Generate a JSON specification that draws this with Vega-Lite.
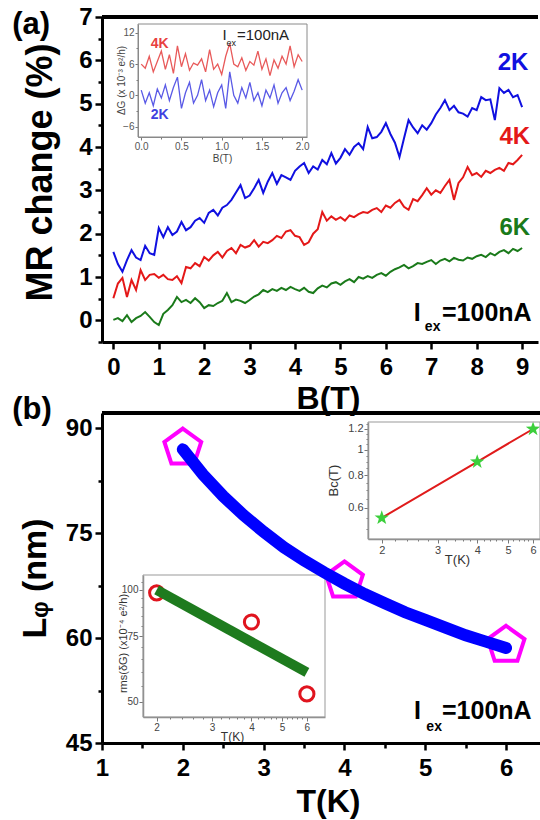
{
"$schema": "https://vega.github.io/schema/vega-lite/v6.json",
"width": 540, "height": 820, "padding": 0, "autosize": {"type": "none"},
"background": "white",
"config": {"view": {"stroke": null}, "font": "Liberation Sans",
  "axis": {"grid": false, "labelFlush": false, "labelOverlap": false, "labelBound": false, "titleAlign": "center", "titleBaseline": "middle", "labelFont": "Liberation Sans", "titleFont": "Liberation Sans"}},
"datasets": {
 "mrA": [
  {"B":0.0,"2K":1.58,"4K":0.51,"6K":0.01},{"B":0.1,"2K":1.30,"4K":0.85,"6K":0.05},{"B":0.2,"2K":1.12,"4K":0.98,"6K":-0.02},{"B":0.3,"2K":1.39,"4K":0.54,"6K":0.12},{"B":0.4,"2K":1.62,"4K":0.93,"6K":-0.04},
  {"B":0.5,"2K":1.45,"4K":0.70,"6K":0.05},{"B":0.6,"2K":1.39,"4K":1.16,"6K":0.10},{"B":0.7,"2K":1.72,"4K":0.93,"6K":0.19},{"B":0.8,"2K":1.55,"4K":1.05,"6K":0.08},{"B":0.9,"2K":1.51,"4K":1.07,"6K":-0.04},
  {"B":1.0,"2K":2.13,"4K":0.98,"6K":-0.11},{"B":1.1,"2K":1.92,"4K":1.05,"6K":0.15},{"B":1.2,"2K":2.15,"4K":0.95,"6K":0.24},{"B":1.3,"2K":1.97,"4K":0.93,"6K":0.35},{"B":1.4,"2K":2.05,"4K":1.02,"6K":0.54},
  {"B":1.5,"2K":2.27,"4K":0.86,"6K":0.42},{"B":1.6,"2K":2.08,"4K":1.23,"6K":0.47},{"B":1.7,"2K":2.15,"4K":1.20,"6K":0.40},{"B":1.8,"2K":2.30,"4K":1.32,"6K":0.51},{"B":1.9,"2K":2.36,"4K":1.25,"6K":0.42},
  {"B":2.0,"2K":2.25,"4K":1.46,"6K":0.28},{"B":2.1,"2K":2.48,"4K":1.38,"6K":0.35},{"B":2.2,"2K":2.55,"4K":1.50,"6K":0.33},{"B":2.3,"2K":2.42,"4K":1.58,"6K":0.40},{"B":2.4,"2K":2.60,"4K":1.45,"6K":0.45},
  {"B":2.5,"2K":2.66,"4K":1.60,"6K":0.63},{"B":2.6,"2K":2.78,"4K":1.67,"6K":0.42},{"B":2.7,"2K":2.95,"4K":1.55,"6K":0.48},{"B":2.8,"2K":3.12,"4K":1.74,"6K":0.45},{"B":2.9,"2K":2.82,"4K":1.68,"6K":0.40},
  {"B":3.0,"2K":2.88,"4K":1.72,"6K":0.47},{"B":3.1,"2K":3.05,"4K":1.85,"6K":0.55},{"B":3.2,"2K":3.24,"4K":1.70,"6K":0.60},{"B":3.3,"2K":2.94,"4K":1.81,"6K":0.70},{"B":3.4,"2K":3.20,"4K":1.78,"6K":0.65},
  {"B":3.5,"2K":3.40,"4K":1.85,"6K":0.72},{"B":3.6,"2K":3.15,"4K":1.95,"6K":0.68},{"B":3.7,"2K":3.35,"4K":1.90,"6K":0.75},{"B":3.8,"2K":3.30,"4K":2.05,"6K":0.70},{"B":3.9,"2K":3.24,"4K":2.08,"6K":0.77},
  {"B":4.0,"2K":3.45,"4K":1.95,"6K":0.72},{"B":4.1,"2K":3.55,"4K":1.92,"6K":0.68},{"B":4.2,"2K":3.63,"4K":1.74,"6K":0.75},{"B":4.3,"2K":3.40,"4K":1.80,"6K":0.66},{"B":4.4,"2K":3.55,"4K":2.00,"6K":0.63},
  {"B":4.5,"2K":3.48,"4K":2.10,"6K":0.74},{"B":4.6,"2K":3.70,"4K":2.50,"6K":0.80},{"B":4.7,"2K":3.60,"4K":2.30,"6K":0.76},{"B":4.8,"2K":3.86,"4K":2.40,"6K":0.85},{"B":4.9,"2K":3.62,"4K":2.32,"6K":0.88},
  {"B":5.0,"2K":3.75,"4K":2.38,"6K":0.82},{"B":5.1,"2K":3.95,"4K":2.30,"6K":0.90},{"B":5.2,"2K":3.82,"4K":2.42,"6K":0.95},{"B":5.3,"2K":4.00,"4K":2.38,"6K":0.88},{"B":5.4,"2K":4.09,"4K":2.45,"6K":1.00},
  {"B":5.5,"2K":3.95,"4K":2.50,"6K":0.96},{"B":5.6,"2K":4.46,"4K":2.48,"6K":1.02},{"B":5.7,"2K":4.20,"4K":2.55,"6K":0.98},{"B":5.8,"2K":4.23,"4K":2.59,"6K":1.05},{"B":5.9,"2K":4.35,"4K":2.50,"6K":1.09},
  {"B":6.0,"2K":4.55,"4K":2.65,"6K":1.03},{"B":6.1,"2K":4.30,"4K":2.60,"6K":1.12},{"B":6.2,"2K":4.10,"4K":2.71,"6K":1.18},{"B":6.3,"2K":3.77,"4K":2.78,"6K":1.22},{"B":6.4,"2K":4.20,"4K":2.62,"6K":1.28},
  {"B":6.5,"2K":4.62,"4K":2.55,"6K":1.20},{"B":6.6,"2K":4.45,"4K":2.80,"6K":1.25},{"B":6.7,"2K":4.32,"4K":2.75,"6K":1.32},{"B":6.8,"2K":4.50,"4K":2.89,"6K":1.30},{"B":6.9,"2K":4.40,"4K":3.05,"6K":1.35},
  {"B":7.0,"2K":4.55,"4K":2.90,"6K":1.39},{"B":7.1,"2K":4.75,"4K":3.00,"6K":1.30},{"B":7.2,"2K":4.90,"4K":2.94,"6K":1.38},{"B":7.3,"2K":5.08,"4K":3.10,"6K":1.42},{"B":7.4,"2K":4.85,"4K":3.24,"6K":1.36},
  {"B":7.5,"2K":4.95,"4K":2.78,"6K":1.44},{"B":7.6,"2K":4.80,"4K":3.17,"6K":1.40},{"B":7.7,"2K":4.77,"4K":3.30,"6K":1.38},{"B":7.8,"2K":4.70,"4K":3.54,"6K":1.45},{"B":7.9,"2K":4.90,"4K":3.35,"6K":1.42},
  {"B":8.0,"2K":4.85,"4K":3.40,"6K":1.48},{"B":8.1,"2K":5.15,"4K":3.31,"6K":1.51},{"B":8.2,"2K":5.08,"4K":3.45,"6K":1.46},{"B":8.3,"2K":5.10,"4K":3.40,"6K":1.55},{"B":8.4,"2K":4.62,"4K":3.47,"6K":1.50},
  {"B":8.5,"2K":5.36,"4K":3.52,"6K":1.58},{"B":8.6,"2K":5.25,"4K":3.45,"6K":1.62},{"B":8.7,"2K":5.32,"4K":3.63,"6K":1.55},{"B":8.8,"2K":5.15,"4K":3.60,"6K":1.65},{"B":8.9,"2K":5.20,"4K":3.70,"6K":1.60},
  {"B":9.0,"2K":4.92,"4K":3.82,"6K":1.67}
 ],
 "dgA": [
  {"B":0.00,"4K":6.0,"2K":1.0},{"B":0.05,"4K":5.2,"2K":-1.5},{"B":0.10,"4K":7.5,"2K":0.5},{"B":0.15,"4K":4.5,"2K":-2.0},{"B":0.20,"4K":6.5,"2K":1.2},
  {"B":0.25,"4K":8.5,"2K":-0.5},{"B":0.30,"4K":5.0,"2K":2.0},{"B":0.35,"4K":7.8,"2K":-1.0},{"B":0.40,"4K":4.2,"2K":1.5},{"B":0.45,"4K":9.5,"2K":3.5},
  {"B":0.50,"4K":5.5,"2K":-2.5},{"B":0.55,"4K":8.0,"2K":0.5},{"B":0.60,"4K":4.8,"2K":2.5},{"B":0.65,"4K":6.2,"2K":-1.5},{"B":0.70,"4K":5.8,"2K":0.0},
  {"B":0.75,"4K":7.0,"2K":3.0},{"B":0.80,"4K":4.5,"2K":-1.0},{"B":0.85,"4K":8.8,"2K":1.0},{"B":0.90,"4K":5.0,"2K":-2.2},{"B":0.95,"4K":6.0,"2K":0.5},
  {"B":1.00,"4K":4.0,"2K":2.0},{"B":1.05,"4K":7.5,"2K":-2.5},{"B":1.10,"4K":10.0,"2K":4.5},{"B":1.15,"4K":6.0,"2K":0.0},{"B":1.20,"4K":5.5,"2K":-1.5},
  {"B":1.25,"4K":7.2,"2K":1.5},{"B":1.30,"4K":4.8,"2K":-0.5},{"B":1.35,"4K":6.5,"2K":2.5},{"B":1.40,"4K":5.8,"2K":-1.0},{"B":1.45,"4K":8.5,"2K":0.5},
  {"B":1.50,"4K":5.0,"2K":-2.0},{"B":1.55,"4K":7.0,"2K":1.0},{"B":1.60,"4K":3.8,"2K":-0.5},{"B":1.65,"4K":6.8,"2K":2.0},{"B":1.70,"4K":5.2,"2K":-1.5},
  {"B":1.75,"4K":7.5,"2K":0.5},{"B":1.80,"4K":6.0,"2K":1.5},{"B":1.85,"4K":9.5,"2K":-1.0},{"B":1.90,"4K":5.5,"2K":0.8},{"B":1.95,"4K":7.8,"2K":3.0},
  {"B":2.00,"4K":6.5,"2K":1.0}
 ],
 "bcurve": [
  {"T":2.0,"L":87.0},{"T":2.25,"L":83.4},{"T":2.5,"L":80.3},{"T":2.75,"L":77.6},{"T":3.0,"L":75.2},{"T":3.25,"L":73.0},{"T":3.5,"L":71.1},{"T":3.75,"L":69.4},{"T":4.0,"L":67.8},
  {"T":4.25,"L":66.3},{"T":4.5,"L":65.0},{"T":4.75,"L":63.7},{"T":5.0,"L":62.6},{"T":5.25,"L":61.5},{"T":5.5,"L":60.4},{"T":5.75,"L":59.5},{"T":6.0,"L":58.6}
 ],
 "bpent": [{"T":2,"L":87.2},{"T":4,"L":68.2},{"T":6,"L":59.0}],
 "bc": [{"T":2,"Bc":0.55},{"T":4,"Bc":0.9},{"T":6,"Bc":1.2}],
 "rmsPts": [{"T":2,"R":98.2},{"T":4,"R":82.0},{"T":6,"R":52.5}],
 "rmsFit": [{"T":2,"R":100},{"T":6,"R":60}]
},
"layer": [
 {
  "layer": [
   {"data": {"name": "dgA"}, "transform": [{"fold": ["4K"], "as": ["T", "g"]}],
    "mark": {"type": "line", "color": "#e85a5a", "strokeWidth": 1.3},
    "encoding": {
     "x": {"field": "B", "type": "quantitative", "scale": {"domain": [-0.04, 2.06], "range": [138, 307], "nice": false, "zero": false},
       "axis": {"orient": "bottom", "offset": -683, "values": [0,0.25,0.5,0.75,1,1.25,1.5,1.75,2],
         "labelExpr": "datum.value % 0.5 === 0 ? format(datum.value, '.1f') : ''",
         "tickSize": {"condition": {"test": "datum.value % 0.5 === 0", "value": 3}, "value": 2},
         "tickColor": "#777", "domainColor": "#888", "domainWidth": 1, "labelFontSize": 10, "labelColor": "#555", "labelPadding": 1,
         "title": "B(T)", "titleFontSize": 10, "titleFontWeight": "normal", "titleColor": "#444", "titleX": 222, "titleY": 21}},
     "y": {"field": "g", "type": "quantitative", "scale": {"domain": [-8, 13.7], "range": [137, 24], "nice": false, "zero": false},
       "axis": {"orient": "left", "offset": -138, "values": [-6,-3,0,3,6,9,12],
         "labelExpr": "datum.value % 6 === 0 ? format(datum.value, 'd') : ''",
         "tickSize": {"condition": {"test": "datum.value % 6 === 0", "value": 3}, "value": 2},
         "tickColor": "#777", "domainColor": "#888", "domainWidth": 1, "labelFontSize": 10, "labelColor": "#555", "labelPadding": 1,
         "title": "ΔG (x 10⁻³ e²/h)", "titleFontSize": 10, "titleFontWeight": "normal", "titleColor": "#444", "titleX": -17, "titleY": 80}}
    }},
   {"data": {"name": "dgA"}, "transform": [{"fold": ["2K"], "as": ["T", "g"]}],
    "mark": {"type": "line", "color": "#5a5ae6", "strokeWidth": 1.3},
    "encoding": {"x": {"field": "B", "type": "quantitative"}, "y": {"field": "g", "type": "quantitative"}}},
   {"data": {"values": [{}]}, "mark": {"type": "rect", "fillOpacity": 0, "stroke": "#8a8a8a", "strokeWidth": 1},
    "encoding": {"x": {"datum": -0.04}, "x2": {"datum": 2.06}, "y": {"datum": -8}, "y2": {"datum": 13.7}}},
   {"data": {"values": [{}]}, "mark": {"type": "text", "text": "4K", "color": "#e84040", "fontSize": 14, "fontWeight": "bold"},
    "encoding": {"x": {"datum": 0.23}, "y": {"datum": 9.86}}},
   {"data": {"values": [{}]}, "mark": {"type": "text", "text": "2K", "color": "#4040e0", "fontSize": 14, "fontWeight": "bold"},
    "encoding": {"x": {"datum": 0.23}, "y": {"datum": -3.77}}},
   {"data": {"values": [{}]}, "mark": {"type": "text", "text": "I", "color": "#222", "fontSize": 15},
    "encoding": {"x": {"datum": 1.035}, "y": {"datum": 11.59}}},
   {"data": {"values": [{}]}, "mark": {"type": "text", "text": "ex", "color": "#222", "fontSize": 9},
    "encoding": {"x": {"datum": 1.12}, "y": {"datum": 10.1}}},
   {"data": {"values": [{}]}, "mark": {"type": "text", "text": "=100nA", "color": "#222", "fontSize": 15, "align": "left"},
    "encoding": {"x": {"datum": 1.19}, "y": {"datum": 11.59}}}
  ]
 },
 {
  "layer": [
   {"data": {"name": "mrA"}, "transform": [{"fold": ["2K", "4K", "6K"], "as": ["T", "v"]}],
    "mark": {"type": "line", "strokeWidth": 2},
    "encoding": {
     "x": {"field": "B", "type": "quantitative", "scale": {"domain": [-0.25, 9.35], "range": [102, 538], "nice": false, "zero": false},
       "axis": {"orient": "bottom", "offset": -478, "values": [0,0.5,1,1.5,2,2.5,3,3.5,4,4.5,5,5.5,6,6.5,7,7.5,8,8.5,9],
         "labelExpr": "datum.value % 1 === 0 ? format(datum.value, 'd') : ''",
         "tickSize": {"condition": {"test": "datum.value % 1 === 0", "value": 7}, "value": 5},
         "tickWidth": 2.5, "tickColor": "#000", "domainColor": "#000", "domainWidth": 3,
         "labelFontSize": 24, "labelFontWeight": "bold", "labelColor": "#000", "labelPadding": 6,
         "title": "B(T)", "titleFontSize": 32, "titleFontWeight": "bold", "titleColor": "#000", "titleX": 328, "titleY": 56}},
     "y": {"field": "v", "type": "quantitative", "scale": {"domain": [-0.5, 7], "range": [342, 17], "nice": false, "zero": false},
       "axis": {"orient": "left", "offset": -102, "values": [-0.5,0,0.5,1,1.5,2,2.5,3,3.5,4,4.5,5,5.5,6,6.5,7],
         "labelExpr": "datum.value % 1 === 0 ? format(datum.value, 'd') : ''",
         "tickSize": {"condition": {"test": "datum.value % 1 === 0", "value": 7}, "value": 4},
         "tickWidth": 2.5, "tickColor": "#000", "domainColor": "#000", "domainWidth": 3,
         "labelFontSize": 24, "labelFontWeight": "bold", "labelColor": "#000", "labelPadding": 3,
         "title": "MR change (%)", "titleFontSize": 36, "titleFontWeight": "bold", "titleColor": "#000", "titleX": -62, "titleY": 172}},
     "color": {"field": "T", "type": "nominal", "scale": {"domain": ["2K", "4K", "6K"], "range": ["#1010e0", "#e41818", "#1a7a1a"]}, "legend": null}
    }},
   {"data": {"values": [{}]}, "mark": {"type": "rule", "strokeWidth": 4, "color": "#000"},
    "encoding": {"x": {"datum": -0.25}, "x2": {"datum": 9.35}, "y": {"datum": 7}}},
   {"data": {"values": [{}]}, "mark": {"type": "text", "text": "2K", "color": "#1010e0", "fontSize": 24, "fontWeight": "bold"},
    "encoding": {"x": {"datum": 8.8}, "y": {"datum": 5.94}}},
   {"data": {"values": [{}]}, "mark": {"type": "text", "text": "4K", "color": "#e41818", "fontSize": 24, "fontWeight": "bold"},
    "encoding": {"x": {"datum": 8.84}, "y": {"datum": 4.23}}},
   {"data": {"values": [{}]}, "mark": {"type": "text", "text": "6K", "color": "#1a7a1a", "fontSize": 24, "fontWeight": "bold"},
    "encoding": {"x": {"datum": 8.84}, "y": {"datum": 2.13}}},
   {"data": {"values": [{}]}, "mark": {"type": "text", "text": "I", "color": "#000", "fontSize": 25, "fontWeight": "bold"},
    "encoding": {"x": {"datum": 6.69}, "y": {"datum": 0.158}}},
   {"data": {"values": [{}]}, "mark": {"type": "text", "text": "ex", "color": "#000", "fontSize": 14, "fontWeight": "bold"},
    "encoding": {"x": {"datum": 7.03}, "y": {"datum": -0.154}}},
   {"data": {"values": [{}]}, "mark": {"type": "text", "text": "=100nA", "color": "#000", "fontSize": 25, "fontWeight": "bold", "align": "left"},
    "encoding": {"x": {"datum": 7.236}, "y": {"datum": 0.158}}},
   {"data": {"values": [{}]}, "mark": {"type": "text", "text": "(a)", "color": "#000", "fontSize": 31, "fontWeight": "bold"},
    "encoding": {"x": {"datum": -1.81}, "y": {"datum": 6.815}}}
  ]
 },
 {
  "layer": [
   {"data": {"name": "bc"}, "mark": {"type": "line", "color": "#e01b1b", "strokeWidth": 2},
    "encoding": {
     "x": {"field": "T", "type": "quantitative", "scale": {"type": "log", "domain": [1.81, 6.31], "range": [368, 540], "nice": false},
       "axis": {"orient": "bottom", "offset": -281, "values": [2,2.2,2.4,2.6,2.8,3,3.2,3.4,3.6,3.8,4,4.2,4.4,4.6,4.8,5,5.2,5.4,5.6,5.8,6],
         "labelExpr": "datum.value % 1 === 0 ? format(datum.value, 'd') : ''",
         "tickSize": {"condition": {"test": "datum.value % 1 === 0", "value": 4}, "value": 2},
         "tickColor": "#777", "domainColor": "#888", "domainWidth": 1.5, "labelFontSize": 11, "labelColor": "#444", "labelPadding": 1,
         "title": "T(K)", "titleFontSize": 13, "titleFontWeight": "normal", "titleColor": "#333", "titleX": 457, "titleY": 20}},
     "y": {"field": "Bc", "type": "quantitative", "scale": {"type": "log", "domain": [0.457, 1.276], "range": [539, 422], "nice": false},
       "axis": {"orient": "left", "offset": -368, "values": [0.5,0.55,0.6,0.65,0.7,0.75,0.8,0.85,0.9,0.95,1,1.05,1.1,1.15,1.2,1.25],
         "labelExpr": "indexof([0.6, 0.8, 1, 1.2], datum.value) >= 0 ? (datum.value === 1 ? '1' : format(datum.value, '.1f')) : ''",
         "tickSize": {"condition": {"test": "indexof([0.6, 0.8, 1, 1.2], datum.value) >= 0", "value": 4}, "value": 2},
         "tickColor": "#777", "domainColor": "#888", "domainWidth": 1.5, "labelFontSize": 11, "labelColor": "#444", "labelPadding": 1,
         "title": "Bᴄ(T)", "titleFontSize": 13, "titleFontWeight": "normal", "titleColor": "#333", "titleX": -35, "titleY": 480}}
    }},
   {"data": {"name": "bc"}, "mark": {"type": "point", "shape": "M0,-1L0.235,-0.324L0.951,-0.309L0.380,0.124L0.588,0.809L0,0.4L-0.588,0.809L-0.380,0.124L-0.951,-0.309L-0.235,-0.324Z", "filled": true, "color": "#3ccf3c", "size": 230, "opacity": 1},
    "encoding": {"x": {"field": "T", "type": "quantitative"}, "y": {"field": "Bc", "type": "quantitative"}}},
   {"data": {"values": [{}]}, "mark": {"type": "rect", "fillOpacity": 0, "stroke": "#999", "strokeWidth": 1},
    "encoding": {"x": {"datum": 1.81}, "x2": {"datum": 6.31}, "y": {"datum": 0.457}, "y2": {"datum": 1.276}}}
  ]
 },
 {
  "layer": [
   {"data": {"name": "rmsPts"}, "mark": {"type": "point", "shape": "circle", "filled": false, "stroke": "#e0141e", "strokeWidth": 3, "size": 200, "opacity": 1},
    "encoding": {
     "x": {"field": "T", "type": "quantitative", "scale": {"type": "log", "domain": [1.81, 6.85], "range": [143, 325], "nice": false},
       "axis": {"orient": "bottom", "offset": -103, "values": [2,2.2,2.4,2.6,2.8,3,3.2,3.4,3.6,3.8,4,4.2,4.4,4.6,4.8,5,5.2,5.4,5.6,5.8,6],
         "labelExpr": "datum.value % 1 === 0 ? format(datum.value, 'd') : ''",
         "tickSize": {"condition": {"test": "datum.value % 1 === 0", "value": 4}, "value": 2},
         "tickColor": "#777", "domainColor": "#888", "domainWidth": 1.5, "labelFontSize": 10, "labelColor": "#444", "labelPadding": 1,
         "title": "T(K)", "titleFontSize": 12, "titleFontWeight": "normal", "titleColor": "#333", "titleX": 232, "titleY": 19}},
     "y": {"field": "R", "type": "quantitative", "scale": {"type": "log", "domain": [45.5, 109.7], "range": [717, 575], "nice": false},
       "axis": {"orient": "left", "offset": -143, "values": [50,55,60,65,70,75,80,85,90,95,100,105],
         "labelExpr": "datum.value % 25 === 0 ? format(datum.value, 'd') : ''",
         "tickSize": {"condition": {"test": "datum.value % 25 === 0", "value": 4}, "value": 2},
         "tickColor": "#777", "domainColor": "#888", "domainWidth": 1.5, "labelFontSize": 10, "labelColor": "#444", "labelPadding": 1,
         "title": "rms(δG) (x10⁻⁴ e²/h)", "titleFontSize": 11, "titleFontWeight": "normal", "titleColor": "#333", "titleX": -20, "titleY": 643}}
    }},
   {"data": {"name": "rmsFit"}, "mark": {"type": "line", "color": "#1e7b1e", "strokeWidth": 10},
    "encoding": {"x": {"field": "T", "type": "quantitative"}, "y": {"field": "R", "type": "quantitative"}}},
   {"data": {"values": [{}]}, "mark": {"type": "rect", "fillOpacity": 0, "stroke": "#999", "strokeWidth": 1},
    "encoding": {"x": {"datum": 1.81}, "x2": {"datum": 6.85}, "y": {"datum": 45.5}, "y2": {"datum": 109.7}}}
  ]
 },
 {
  "layer": [
   {"data": {"name": "bpent"}, "mark": {"type": "point", "shape": "M0,-1L0.951,-0.309L0.588,0.809L-0.588,0.809L-0.951,-0.309Z", "filled": false, "stroke": "#ff00ff", "strokeWidth": 4, "size": 1500, "opacity": 1},
    "encoding": {
     "x": {"field": "T", "type": "quantitative", "scale": {"domain": [1, 6.42], "range": [102, 540], "nice": false, "zero": false},
       "axis": {"orient": "bottom", "offset": -77, "values": [1,1.5,2,2.5,3,3.5,4,4.5,5,5.5,6],
         "labelExpr": "datum.value % 1 === 0 ? format(datum.value, 'd') : ''",
         "tickSize": {"condition": {"test": "datum.value % 1 === 0", "value": 7}, "value": 5},
         "tickWidth": 2.5, "tickColor": "#000", "domainColor": "#000", "domainWidth": 3,
         "labelFontSize": 24, "labelFontWeight": "bold", "labelColor": "#000", "labelPadding": 6,
         "title": "T(K)", "titleFontSize": 32, "titleFontWeight": "bold", "titleColor": "#000", "titleX": 328, "titleY": 58}},
     "y": {"field": "L", "type": "quantitative", "scale": {"domain": [45, 92.2], "range": [743, 413], "nice": false, "zero": false},
       "axis": {"orient": "left", "offset": -102, "values": [45,52.5,60,67.5,75,82.5,90],
         "labelExpr": "datum.value % 15 === 0 ? format(datum.value, 'd') : ''",
         "tickSize": {"condition": {"test": "datum.value % 15 === 0", "value": 7}, "value": 4},
         "tickWidth": 2.5, "tickColor": "#000", "domainColor": "#000", "domainWidth": 3,
         "labelFontSize": 24, "labelFontWeight": "bold", "labelColor": "#000", "labelPadding": 3,
         "title": "Lᵩ (nm)", "titleFontSize": 34, "titleFontWeight": "bold", "titleColor": "#000", "titleX": -67, "titleY": 578}}
    }},
   {"data": {"name": "bcurve"}, "mark": {"type": "line", "color": "#0000ff", "strokeWidth": 12, "strokeCap": "round"},
    "encoding": {"x": {"field": "T", "type": "quantitative"}, "y": {"field": "L", "type": "quantitative"}}},
   {"data": {"values": [{}]}, "mark": {"type": "rule", "strokeWidth": 4, "color": "#000"},
    "encoding": {"x": {"datum": 1}, "x2": {"datum": 6.42}, "y": {"datum": 92.2}}},
   {"data": {"values": [{}]}, "mark": {"type": "text", "text": "I", "color": "#000", "fontSize": 25, "fontWeight": "bold"},
    "encoding": {"x": {"datum": 4.904}, "y": {"datum": 49.58}}},
   {"data": {"values": [{}]}, "mark": {"type": "text", "text": "ex", "color": "#000", "fontSize": 14, "fontWeight": "bold"},
    "encoding": {"x": {"datum": 5.11}, "y": {"datum": 47.29}}},
   {"data": {"values": [{}]}, "mark": {"type": "text", "text": "=100nA", "color": "#000", "fontSize": 25, "fontWeight": "bold", "align": "left"},
    "encoding": {"x": {"datum": 5.207}, "y": {"datum": 49.58}}},
   {"data": {"values": [{}]}, "mark": {"type": "text", "text": "(b)", "color": "#000", "fontSize": 31, "fontWeight": "bold"},
    "encoding": {"x": {"datum": 0.134}, "y": {"datum": 92.63}}}
  ]
 }
],
"resolve": {"scale": {"x": "independent", "y": "independent", "color": "independent"}}
}
